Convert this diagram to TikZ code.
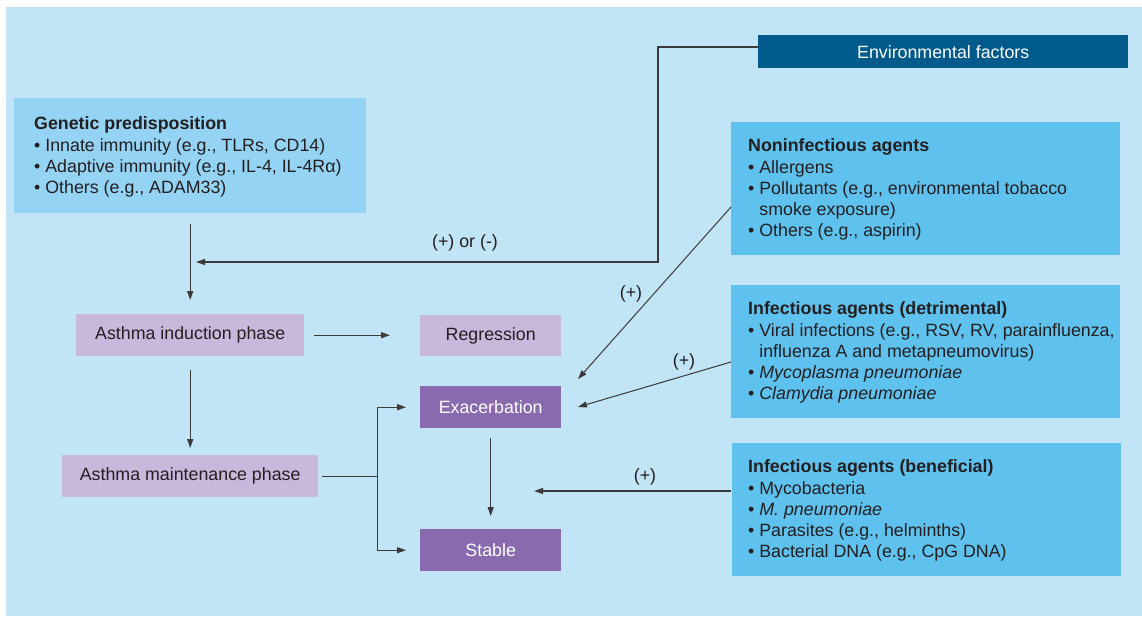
\documentclass[tikz,border=0pt]{standalone}
\usepackage{fontspec}
\setmainfont{Liberation Sans}
\usetikzlibrary{arrows.meta}
\definecolor{bg}{HTML}{C2E4F7}
\definecolor{genc}{HTML}{94D3F3}
\definecolor{agent}{HTML}{5EC1EE}
\definecolor{envc}{HTML}{005A8B}
\definecolor{lpur}{HTML}{C7B8DC}
\definecolor{dpur}{HTML}{8A6AAE}
\definecolor{txt}{HTML}{231F20}
\definecolor{ln}{HTML}{3A3A3A}
\begin{document}
\begin{tikzpicture}[x=1pt,y=-1pt,
  font=\fontsize{17.8}{21.3}\selectfont, text=txt,
  box/.style={rectangle, anchor=north west, inner sep=0pt},
  info/.style={anchor=west, align=left, inner sep=0pt},
  arr/.style={draw=ln, line width=1.3pt, -{Triangle[length=9pt,width=6pt]}},
  plain/.style={draw=ln, line width=1.3pt},
  lbl/.style={inner sep=0pt}]
\useasboundingbox (0,0) rectangle (1142,616);
\fill[white] (0,0) rectangle (1142,616);
\fill[bg] (6,7) rectangle (1142,616);

% information boxes
\node[box, fill=genc, minimum width=352pt, minimum height=115pt] (gen) at (14,98) {};
\node[info] (gent) at ([xshift=20pt,yshift=-1.5pt]gen.west) {\textbf{Genetic predisposition}\\
• Innate immunity (e.g., TLRs, CD14)\\
• Adaptive immunity (e.g., IL-4, IL-4Rα)\\
• Others (e.g., ADAM33)};

\node[box, fill=envc, minimum width=370pt, minimum height=33pt, text=white] (env) at (758,35) {Environmental factors};

\node[box, fill=agent, minimum width=389pt, minimum height=133pt] (nonin) at (731,122) {};
\node[info] (nonint) at ([xshift=17pt,yshift=-1pt]nonin.west) {\textbf{Noninfectious agents}\\
• Allergens\\
• Pollutants (e.g., environmental tobacco\\
\hphantom{• }smoke exposure)\\
• Others (e.g., aspirin)};

\node[box, fill=agent, minimum width=389pt, minimum height=133pt] (det) at (731,285) {};
\node[info] (dett) at ([xshift=17pt,yshift=-1pt]det.west) {\textbf{Infectious agents (detrimental)}\\
• Viral infections (e.g., RSV, RV, parainfluenza,\\
\hphantom{• }influenza A and metapneumovirus)\\
• \textit{Mycoplasma pneumoniae}\\
• \textit{Clamydia pneumoniae}};

\node[box, fill=agent, minimum width=389pt, minimum height=133pt] (ben) at (732,443) {};
\node[info] (bent) at ([xshift=16pt,yshift=-1pt]ben.west) {\textbf{Infectious agents (beneficial)}\\
• Mycobacteria\\
• \textit{M. pneumoniae}\\
• Parasites (e.g., helminths)\\
• Bacterial DNA (e.g., CpG DNA)};

% phase boxes
\node[box, fill=lpur, minimum width=228pt, minimum height=42pt] (ind) at (76,314) {Asthma induction phase};
\node[box, fill=lpur, minimum width=256pt, minimum height=42pt] (maint) at (62,455) {Asthma maintenance phase};
\node[box, fill=lpur, minimum width=141pt, minimum height=41pt] (reg) at (420,315) {Regression};
\node[box, fill=dpur, minimum width=141pt, minimum height=42pt, text=white] (exa) at (420,386) {Exacerbation};
\node[box, fill=dpur, minimum width=141pt, minimum height=42pt, text=white] (stab) at (420,529) {Stable};

% coordinates
\coordinate (ec1) at (658,47);
\coordinate (ec2) at (658,262);
\coordinate (envend) at (196,262);
\path (maint.east) ++(59,0) coordinate (junc);
\coordinate (nstart) at (731,207);
\coordinate (nend) at (578,379);
\coordinate (dstart) at (731,362);
\coordinate (dend) at (578,407);
\coordinate (bstart) at (731,491);
\coordinate (bend) at (534,491);

% connectors
\draw[arr] (env.west |- ec1) -- (ec1) -- (ec2) -- (envend);
\draw[arr, shorten <=11pt, shorten >=14pt] (gen.south) -- (ind.north);
\draw[arr, shorten <=14pt, shorten >=7pt] (ind.south) -- (maint.north);
\draw[arr, shorten <=10pt, shorten >=30pt] (ind.east) -- (reg.west |- ind.east);
\draw[plain, shorten <=4pt] (maint.east) -- (junc);
\draw[arr, shorten >=14pt] (junc) |- (exa.west);
\draw[arr, shorten >=14pt] (junc) |- (stab.west);
\draw[arr, shorten <=10pt, shorten >=13pt] (exa.south) -- (stab.north);
\draw[arr, line width=1pt] (nstart) -- (nend);
\draw[arr, line width=1pt] (dstart) -- (dend);
\draw[arr] (bstart) -- (bend);

% labels
\node[lbl] (l1) at (465,243) {(+) or (-)};
\node[lbl] (l2) at (631,294) {(+)};
\node[lbl] (l3) at (684,362) {(+)};
\node[lbl] (l4) at (645,477) {(+)};
\end{tikzpicture}
\end{document}
